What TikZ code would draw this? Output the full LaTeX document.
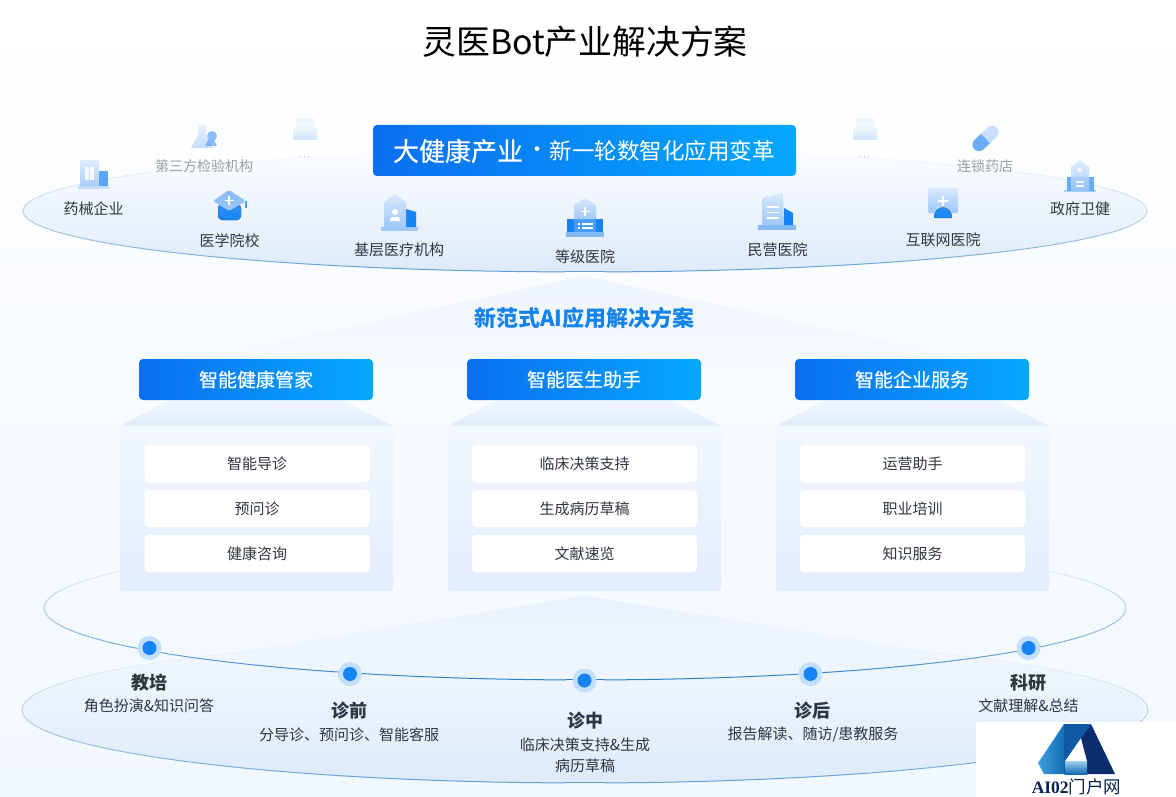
\documentclass[tikz,border=0pt]{standalone}
\usepackage{fontspec}
\setmainfont{Noto Sans CJK SC}
\newfontfamily\wmlatin{Liberation Serif}
\newfontfamily\dotfont{Liberation Sans}
\newfontfamily\medf[FakeBold=0.35]{Noto Sans CJK SC}
\usetikzlibrary{fadings}
\definecolor{bgbot}{HTML}{F2F8FF}
\definecolor{ringhi}{HTML}{5B9FD6}
\definecolor{ringmid}{HTML}{2B7FC8}
\definecolor{ringlo}{HTML}{D6E4F0}
\definecolor{bandL}{HTML}{0A6FF0}
\definecolor{bandR}{HTML}{05A8FF}
\definecolor{cardT}{HTML}{F2F7FF}
\definecolor{cardB}{HTML}{E2EDFD}
\definecolor{roofC}{HTML}{E0ECFB}
\definecolor{inkD}{HTML}{2F3640}
\definecolor{inkG}{HTML}{9AA0A8}
\definecolor{lightI}{HTML}{9FC8F9}
\definecolor{paleI}{HTML}{D8E8FC}
\definecolor{wash}{HTML}{DFEBFB}
\definecolor{darkI}{HTML}{1684F3}
\definecolor{titleB}{HTML}{1483EC}
\definecolor{logoA}{HTML}{3FA0DA}
\definecolor{logoB}{HTML}{0F6CB4}
\definecolor{logoC}{HTML}{0E58A4}
\definecolor{logoD}{HTML}{0A2E6E}
\tikzfading[name=fadedown, top color=transparent!0, bottom color=transparent!100]
\tikzfading[name=fadeup, top color=transparent!100, middle color=transparent!96, bottom color=transparent!0]
\newcommand{\fsz}[1]{\fontsize{#1}{#1}\selectfont}
\newcommand{\ringline}[5]{%
  \foreach \a in {0,4,...,356}{%
    \pgfmathsetmacro\tt{100*((1+sin(\a+2))/2)^2.2}%
    \pgfmathsetmacro\oo{min(1,1.15*(1+sin(\a+2)))}%
    \draw[#5!\tt!ringlo,line width=1pt,draw opacity=\oo]
      ({#1+#3*cos(\a)},{#2+#4*sin(\a)}) -- ({#1+#3*cos(\a+4)},{#2+#4*sin(\a+4)});
  }}
\tikzset{
  x=1pt,y=-1pt,
  lab/.style={text=inkD,font=\fsz{15},inner sep=0pt},
  labg/.style={text=inkG,font=\fsz{14},inner sep=0pt},
  stage/.style={text=inkD,font=\fsz{18}\bfseries,inner sep=0pt},
  desc/.style={text=inkD,font=\fsz{15},inner sep=0pt},
  hdr/.style={rounded corners=4pt,left color=bandL,right color=bandR,text=white,
    font=\fsz{19}\medf,minimum width=234pt,minimum height=41pt,inner sep=0pt},
  itembox/.style={fill=white,rounded corners=4pt,text=inkD,font=\fsz{15},
    minimum width=225pt,minimum height=37pt,inner sep=0pt},
  halo/.style={circle,fill=#1,minimum size=24pt,inner sep=0pt},
  core/.style={circle,fill=darkI,minimum size=14pt,inner sep=0pt},
  pale/.style={top color=paleI,bottom color=lightI},
  deep/.style={top color=darkI!80!lightI,bottom color=darkI},
  wht/.style={white,line width=1.6pt}
}
\newcommand{\cardcol}[1]{%
  \shade[top color=cardT,bottom color=roofC] (#1+50,400) -- (#1+222,400) -- (#1+273,426) -- (#1,426) -- cycle;
  \shade[top color=cardT,bottom color=cardB,rounded corners=3pt] (#1,426) rectangle (#1+273,591);
}
\begin{document}
\begin{tikzpicture}
\useasboundingbox (0,0) rectangle (1176,797);
% background
\shade[top color=white,bottom color=bgbot,middle color=bgbot!55] (0,0) rectangle (1176,797);
% lower ring fill and roof
\fill[wash,path fading=fadeup] (585,710) ellipse [x radius=563pt,y radius=73pt];
\ringline{585}{710}{563}{73}{ringhi}
\fill[wash,path fading=fadedown,opacity=.55] (585,596) -- (1060,672) -- (110,672) -- cycle;
% middle ring
\ringline{585}{608}{541}{72}{ringmid}
% upper ring
\fill[wash,path fading=fadeup] (585,211) ellipse [x radius=562pt,y radius=61pt];
\ringline{585}{211}{562}{61}{ringhi}
\fill[wash,path fading=fadedown,opacity=.45] (585,276) -- (1030,372) -- (140,372) -- cycle;

% title
\node[inner sep=0pt,text=black,font=\fsz{33.8}] (title) at (585,42) {灵医Bot产业解决方案};

% banner
\node[rounded corners=4pt,left color=bandL,right color=bandR,minimum width=423pt,minimum height=51pt,inner sep=0pt] (banner) at (584.5,150.5) {};
\node[text=white,font=\fsz{26}\medf,inner sep=0pt] (bannerA) at (458,151) {大健康产业};
\node[text=white,font=\fsz{22},inner sep=0pt] (bannerDot) at (537,152) {·};
\node[text=white,font=\fsz{22.5},inner sep=0pt] (bannerB) at (662,151) {新一轮数智化应用变革};

% building
\begin{scope}[opacity=.85]
\fill[lightI!70!white] (78,186) rectangle (109,189);
\shade[pale] (80,161) rectangle (99,186);
\fill[darkI!70!lightI] (99,171) rectangle (108,186);
\fill[white,opacity=.85] (85,167) rectangle (89,180) (90,167) rectangle (94,180);
\end{scope}
% flask
\begin{scope}[opacity=.6]
\shade[pale] (198,125) -- (206,125) -- (206,135) -- (213,148) -- (191,148) -- (198,135) -- cycle;
\fill[darkI!70!lightI] (212,136) circle (5pt);
\fill[darkI!70!lightI] (205,146) -- (217,146) -- (214,140) -- (208,140) -- cycle;
\end{scope}
% trays
\foreach \tx in {305,865}{
\begin{scope}[opacity=.6,shift={(\tx,0)}]
\fill[paleI!70!white] (-9,118) rectangle (9,132);
\fill[white] (-6,124) rectangle (6,125);
\shade[top color=paleI!70!white,bottom color=lightI!70!paleI] (-12,128) rectangle (12,140);
\fill[paleI!40!white] (-9,128) rectangle (9,132);
\end{scope}
}
\node[text=inkG!60,font=\fsz{12}\dotfont,inner sep=0pt] (moreL) at (304.5,159) {···};
\node[text=inkG!60,font=\fsz{12}\dotfont,inner sep=0pt] (moreR) at (864.5,159) {···};
% capsule
\begin{scope}[opacity=.95,shift={(985.5,138.5)},rotate=43]
\fill[paleI!70!lightI,rounded corners=6.4pt] (0,-6.5) -- (15.5,-6.5) -- (15.5,6.5) -- (0,6.5);
\fill[darkI!45!lightI,rounded corners=6.4pt] (0,-6.5) -- (-15.5,-6.5) -- (-15.5,6.5) -- (0,6.5);
\end{scope}
% mortarboard
\fill[deep,rounded corners=4pt] (218,204) rectangle (241,220);
\fill[darkI!60!lightI] (245,201) rectangle (247,208);
\shade[top color=lightI!80!darkI,bottom color=lightI,rounded corners=1.5pt] (213,201) -- (229,190) -- (246,201) -- (229,211) -- cycle;
\draw[wht] (229,196) -- (229,205) (224.5,200.5) -- (233.5,200.5);
% clinic
\fill[lightI] (381,227) rectangle (418,231);
\fill[darkI] (406,209) -- (416,212) -- (416,227) -- (406,227) -- cycle;
\shade[pale] (384,202) -- (395,194) -- (406,202) -- (406,227) -- (384,227) -- cycle;
\fill[white] (395,212) circle (3pt);
\fill[white] (390,221) -- (391,217) -- (399,217) -- (400,221) -- cycle;
% grade hospital
\fill[lightI!80!darkI] (566,232) rectangle (604,237);
\fill[darkI] (567,219) rectangle (603,232);
\shade[pale] (574,205) -- (585,198) -- (596,205) -- (596,220) -- (574,220) -- cycle;
\fill[darkI!60!lightI,opacity=.9] (574,219) rectangle (596,232);
\draw[wht] (585,207) -- (585,216) (580.5,211.5) -- (589.5,211.5);
\draw[white,line width=1.3pt] (582,224) -- (593,224) (582,228) -- (593,228) (578,224) -- (579.5,224) (578,228) -- (579.5,228);
% private hospital
\fill[lightI!80!darkI] (758,225) rectangle (796,230);
\fill[darkI] (784,208) -- (793,213) -- (793,225) -- (784,225) -- cycle;
\shade[pale] (762,198) -- (783,193) -- (784,225) -- (762,225) -- cycle;
\draw[white,line width=1.5pt] (767,207) -- (779,207) (767,212.5) -- (779,212.5) (767,218) -- (779,218);
% internet hospital
\shade[pale,rounded corners=1pt] (928,188) rectangle (958,213);
\fill[deep] (934,218) .. controls (934,204) and (952,204) .. (952,218) -- cycle;
\draw[wht] (943,196) -- (943,206) (938,201) -- (948,201);
% gov
\begin{scope}[opacity=.85]
\fill[lightI] (1064,190) rectangle (1096,192);
\fill[darkI!60!lightI] (1067,177) rectangle (1094,191);
\shade[pale] (1071,167) -- (1080,160) -- (1089,167) -- (1089,191) -- (1071,191) -- cycle;
\node[text=white,font=\fsz{9},inner sep=0pt] (govstar) at (1080,170.5) {\fontspec{DejaVu Sans}★};
\draw[white,line width=1.2pt] (1076,182) -- (1084,182) (1076,186) -- (1084,186);
\end{scope}

% upper labels
\node[lab] (u1) at (93.5,208.5) {药械企业};
\node[labg] (u2) at (204,166) {第三方检验机构};
\node[lab] (u3) at (229.5,241) {医学院校};
\node[lab] (u4) at (399,250) {基层医疗机构};
\node[lab] (u5) at (585,257) {等级医院};
\node[lab] (u6) at (777.5,250) {民营医院};
\node[lab] (u7) at (943,240) {互联网医院};
\node[labg] (u8) at (985,166) {连锁药店};
\node[lab] (u9) at (1080,208.5) {政府卫健};

% subtitle
\node[text=titleB,font=\fsz{22}\bfseries,inner sep=0pt] (sub) at (584.5,318) {新范式AI应用解决方案};

% columns
\cardcol{120}
\cardcol{448}
\cardcol{776}
\node[hdr] (h1) at (256,379.5) {智能健康管家};
\node[hdr] (h2) at (584,379.5) {智能医生助手};
\node[hdr] (h3) at (912,379.5) {智能企业服务};
\node[itembox] (a1) at (257,463.5) {智能导诊};
\node[itembox] (a2) at (257,508.5) {预问诊};
\node[itembox] (a3) at (257,553.5) {健康咨询};
\node[itembox] (b1) at (584.5,463.5) {临床决策支持};
\node[itembox] (b2) at (584.5,508.5) {生成病历草稿};
\node[itembox] (b3) at (584.5,553.5) {文献速览};
\node[itembox] (c1) at (912.5,463.5) {运营助手};
\node[itembox] (c2) at (912.5,508.5) {职业培训};
\node[itembox] (c3) at (912.5,553.5) {知识服务};

% timeline dots
\foreach \nm/\px/\py in {d1/149.5/648,d2/350/674,d3/584.5/680.5,d4/810.5/674,d5/1028.5/648}{
  \node[halo=darkI!26!white] (\nm h) at (\px,\py) {};
  \node[core] (\nm) at (\px,\py) {};
}
% stage labels
\node[stage] (s1) at (149,683) {教培};
\node[desc] (t1) at (149,706) {角色扮演\&知识问答};
\node[stage] (s2) at (349.5,711) {诊前};
\node[desc] (t2) at (349,735) {分导诊、预问诊、智能客服};
\node[stage] (s3) at (585,721) {诊中};
\node[desc] (t3) at (585,745) {临床决策支持\&生成};
\node[desc] (t3b) at (585,765.5) {病历草稿};
\node[stage] (s4) at (812.5,711) {诊后};
\node[desc] (t4) at (813,735) {报告解读、随访/患教服务};
\node[stage] (s5) at (1028,683) {科研};
\node[desc] (t5) at (1028.5,706) {文献理解\&总结};

% badge
\fill[white] (976,722) rectangle (1176,797);
\shade[left color=logoA,right color=logoB] (1064,724) -- (1038,763) -- (1044,774) -- (1065,774) -- (1065,724) -- cycle;
\fill[logoC] (1064,724) -- (1091,724) -- (1081,738) -- (1065,761) -- (1065,774) -- (1064,774) -- cycle;
\fill[logoD] (1091,724) -- (1115,774) -- (1087,774) -- (1087,761) -- (1081,738) -- cycle;
\shade[top color=logoA!50!white,bottom color=logoB] (1065,761) rectangle (1087,774);
\node[inner sep=0pt,text=logoD!70!black,font=\fsz{17.5}] (badge) at (1076.5,787) {{\wmlatin\bfseries AI02}门户网};
\end{tikzpicture}
\end{document}
